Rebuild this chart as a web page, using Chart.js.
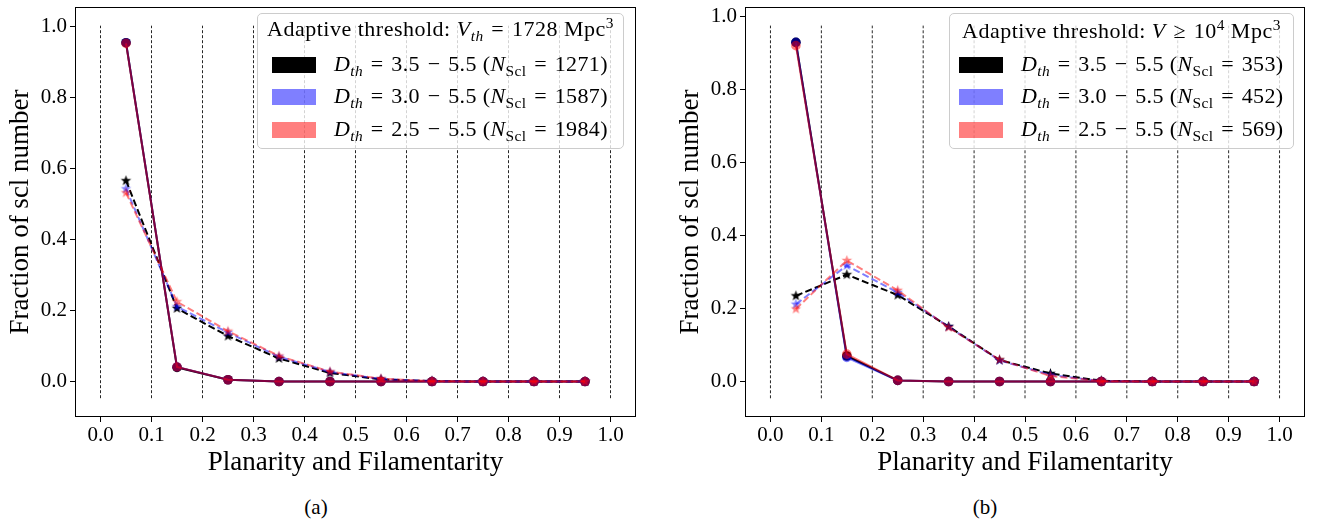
<!DOCTYPE html>
<html><head><meta charset="utf-8">
<script src="https://cdn.jsdelivr.net/npm/chart.js@4/dist/chart.umd.min.js"></script>
<style>
html,body{margin:0;padding:0;background:#fff;overflow:hidden;width:1325px;height:524px;}
.pane{position:absolute;top:0;}
#pa{left:0;width:665px;height:490px;}
#pb{left:670px;width:655px;height:490px;}
.legend{position:absolute;background:rgba(255,255,255,0.8);border:1px solid #cccccc;border-radius:5px;font-family:'Liberation Serif',serif;font-size:22px;color:#000;box-sizing:border-box;}
.legend .ttl{position:absolute;left:0;right:0;text-align:center;white-space:nowrap;line-height:24px;letter-spacing:0.5px;}
.legend .row{position:absolute;white-space:nowrap;line-height:24px;letter-spacing:0.4px;}
.legend .patch{position:absolute;width:44px;height:16px;}
.op{margin:0 0.35em;}
.sb{font-size:70%;vertical-align:-0.3em;line-height:0;}
.sp{font-size:70%;vertical-align:0.55em;line-height:0;}
.cap{position:absolute;font-family:'Liberation Serif',serif;font-size:21px;transform:translate(-50%,-50%);white-space:nowrap;}
</style></head>
<body>
<div class="pane" id="pa"><canvas id="ca"></canvas></div>
<div class="pane" id="pb"><canvas id="cb"></canvas></div>

<div class="legend" style="left:257px;top:13px;width:367px;height:136px;">
  <div class="ttl" style="top:3px;">Adaptive threshold: <i>V</i><span class="sb"><i>th</i></span><span class="op">=</span>1728 Mpc<span class="sp">3</span></div>
  <div class="patch" style="left:14px;top:43px;background:#000;"></div>
  <div class="row" style="left:76px;top:38px;"><i>D</i><span class="sb"><i>th</i></span><span class="op">=</span>3.5<span class="op">−</span>5.5 (<i>N</i><span class="sb">Scl</span><span class="op">=</span>1271)</div>
  <div class="patch" style="left:14px;top:75px;background:rgba(0,0,255,0.5);"></div>
  <div class="row" style="left:76px;top:70px;"><i>D</i><span class="sb"><i>th</i></span><span class="op">=</span>3.0<span class="op">−</span>5.5 (<i>N</i><span class="sb">Scl</span><span class="op">=</span>1587)</div>
  <div class="patch" style="left:14px;top:108px;background:rgba(255,0,0,0.5);"></div>
  <div class="row" style="left:76px;top:103px;"><i>D</i><span class="sb"><i>th</i></span><span class="op">=</span>2.5<span class="op">−</span>5.5 (<i>N</i><span class="sb">Scl</span><span class="op">=</span>1984)</div>
</div>

<div class="legend" style="left:949px;top:13px;width:345px;height:136px;">
  <div class="ttl" style="top:5px;">Adaptive threshold: <i>V</i><span class="op">≥</span>10<span class="sp">4</span> Mpc<span class="sp">3</span></div>
  <div class="patch" style="left:9px;top:43px;background:#000;"></div>
  <div class="row" style="left:71px;top:38px;"><i>D</i><span class="sb"><i>th</i></span><span class="op">=</span>3.5<span class="op">−</span>5.5 (<i>N</i><span class="sb">Scl</span><span class="op">=</span>353)</div>
  <div class="patch" style="left:9px;top:75px;background:rgba(0,0,255,0.5);"></div>
  <div class="row" style="left:71px;top:70px;"><i>D</i><span class="sb"><i>th</i></span><span class="op">=</span>3.0<span class="op">−</span>5.5 (<i>N</i><span class="sb">Scl</span><span class="op">=</span>452)</div>
  <div class="patch" style="left:9px;top:108px;background:rgba(255,0,0,0.5);"></div>
  <div class="row" style="left:71px;top:103px;"><i>D</i><span class="sb"><i>th</i></span><span class="op">=</span>2.5<span class="op">−</span>5.5 (<i>N</i><span class="sb">Scl</span><span class="op">=</span>569)</div>
</div>

<div class="cap" style="left:316px;top:507px;">(a)</div>
<div class="cap" style="left:985px;top:507px;">(b)</div>

<script>
// ---------------- data ----------------
const binCenters = [0.05, 0.15, 0.25, 0.35, 0.45, 0.55, 0.65, 0.75, 0.85, 0.95];
const xTickValues = [0.0, 0.1, 0.2, 0.3, 0.4, 0.5, 0.6, 0.7, 0.8, 0.9, 1.0];
const yTickValues = [0.0, 0.2, 0.4, 0.6, 0.8, 1.0];
const vlinePositions = [0.0, 0.1, 0.2, 0.3, 0.4, 0.5, 0.6, 0.7, 0.8, 0.9, 1.0];

// panel (a): V_th = 1728 Mpc^3 ; circles (solid) and stars (dashed)
const aCircle35 = [0.955, 0.040, 0.005, 0, 0, 0, 0, 0, 0, 0];
const aCircle30 = [0.955, 0.041, 0.005, 0, 0, 0, 0, 0, 0, 0];
const aCircle25 = [0.953, 0.041, 0.005, 0, 0, 0, 0, 0, 0, 0];
const aStar35 = [0.566, 0.206, 0.128, 0.065, 0.024, 0.006, 0.001, 0, 0, 0];
const aStar30 = [0.543, 0.211, 0.138, 0.070, 0.027, 0.007, 0.001, 0, 0, 0];
const aStar25 = [0.532, 0.225, 0.142, 0.072, 0.028, 0.008, 0.001, 0, 0, 0];

// panel (b): V >= 1e4 Mpc^3
const bCircle35 = [0.930, 0.070, 0.003, 0, 0, 0, 0, 0, 0, 0];
const bCircle30 = [0.930, 0.066, 0.003, 0, 0, 0, 0, 0, 0, 0];
const bCircle25 = [0.921, 0.075, 0.003, 0, 0, 0, 0, 0, 0, 0];
const bStar35 = [0.235, 0.293, 0.237, 0.151, 0.059, 0.022, 0.002, 0, 0, 0];
const bStar30 = [0.212, 0.318, 0.244, 0.150, 0.058, 0.018, 0.001, 0, 0, 0];
const bStar25 = [0.199, 0.332, 0.250, 0.148, 0.060, 0.015, 0.001, 0, 0, 0];

const seriesColors = ['rgba(0,0,0,1)', 'rgba(0,0,255,0.5)', 'rgba(255,0,0,0.5)'];
const xLabel = 'Planarity and Filamentarity';
const yLabel = 'Fraction of scl number';
// ---------------------------------------

const FONT = "'Liberation Serif', serif";

function starImage(color, r) {
  const c = document.createElement('canvas');
  const s = Math.ceil(r * 2 + 2);
  c.width = s; c.height = s;
  const g = c.getContext('2d');
  g.fillStyle = color;
  g.beginPath();
  for (let i = 0; i < 10; i++) {
    const rr = i % 2 === 0 ? r : r * 0.42;
    const a = -Math.PI / 2 + i * Math.PI / 5;
    const px = s / 2 + rr * Math.cos(a), py = s / 2 + rr * Math.sin(a);
    if (i === 0) g.moveTo(px, py); else g.lineTo(px, py);
  }
  g.closePath();
  g.fill();
  return c;
}

const pts = arr => arr.map((v, i) => ({x: binCenters[i], y: v}));

function buildDatasets(circles, stars, vspan) {
  const ds = [];
  vlinePositions.forEach(v => {
    ds.push({data: [{x: v, y: vspan[0]}, {x: v, y: vspan[1]}], borderColor: 'rgba(0,0,0,0.95)',
      borderWidth: 0.9, borderDash: [3, 2], pointRadius: 0, order: 100});
  });
  for (let k = 0; k < 3; k++) {
    const col = seriesColors[k];
    const ord = 30 - k * 10;
    ds.push({data: pts(circles[k]), borderColor: col, backgroundColor: col, borderWidth: 2,
      pointRadius: 4.8, pointBorderWidth: 0, pointBackgroundColor: col, pointStyle: 'circle', order: ord + 1});
    ds.push({data: pts(stars[k]), borderColor: col, backgroundColor: col, borderWidth: 2,
      borderDash: [7, 3.2], pointRadius: 5, pointStyle: starImage(col, 5.5), order: ord});
  }
  return ds;
}

const framePlugin = {
  id: 'frame',
  afterDatasetsDraw(chart) {
    const {ctx, chartArea: a} = chart;
    ctx.save();
    ctx.strokeStyle = '#000';
    ctx.lineWidth = 1;
    ctx.strokeRect(Math.round(a.left) + 0.5, Math.round(a.top) + 0.5,
      Math.round(a.right - a.left) - 1, Math.round(a.bottom - a.top) - 1);
    ctx.restore();
  }
};

function makeChart(id, circles, stars, ymin, ymax, vspan, padRight) {
  return new Chart(document.getElementById(id), {
    type: 'line',
    data: {datasets: buildDatasets(circles, stars, vspan)},
    plugins: [framePlugin],
    options: {
      responsive: true, maintainAspectRatio: false, animation: false,
      layout: {padding: {top: 1, right: padRight, left: 0, bottom: 0}},
      plugins: {legend: {display: false}, tooltip: {enabled: false}},
      elements: {line: {tension: 0}},
      scales: {
        x: {
          type: 'linear', min: -0.05, max: 1.05,
          afterBuildTicks: s => { s.ticks = xTickValues.map(v => ({value: v})); },
          afterFit: s => { s.height = 73; s.paddingLeft = 0; s.paddingRight = 0; },
          ticks: {color: '#000', font: {family: FONT, size: 21}, padding: 1, maxRotation: 0,
            callback: v => Number(v).toFixed(1)},
          grid: {display: true, drawOnChartArea: false, drawTicks: true, tickLength: 5, tickColor: '#000', tickWidth: 1},
          border: {display: false},
          title: {display: true, text: xLabel, color: '#000', font: {family: FONT, size: 27}, padding: {top: 0, bottom: 11}}
        },
        y: {
          type: 'linear', min: ymin, max: ymax,
          afterBuildTicks: s => { s.ticks = yTickValues.map(v => ({value: v})); },
          afterFit: s => { s.width = 75; s.paddingTop = 0; s.paddingBottom = 0; },
          ticks: {color: '#000', font: {family: FONT, size: 21}, padding: 3,
            callback: v => Number(v).toFixed(1)},
          grid: {display: true, drawOnChartArea: false, drawTicks: true, tickLength: 5, tickColor: '#000', tickWidth: 1},
          border: {display: false},
          title: {display: true, text: yLabel, color: '#000', font: {family: FONT, size: 27}, padding: {top: 5, bottom: 0}}
        }
      }
    }
  });
}

makeChart('ca', [aCircle35, aCircle30, aCircle25], [aStar35, aStar30, aStar25], -0.1, 1.0556, [-0.047, 1.003], 29);
makeChart('cb', [bCircle35, bCircle30, bCircle25], [bStar35, bStar30, bStar25], -0.0973, 1.027, [-0.046, 0.976], 20);
</script>
</body></html>
